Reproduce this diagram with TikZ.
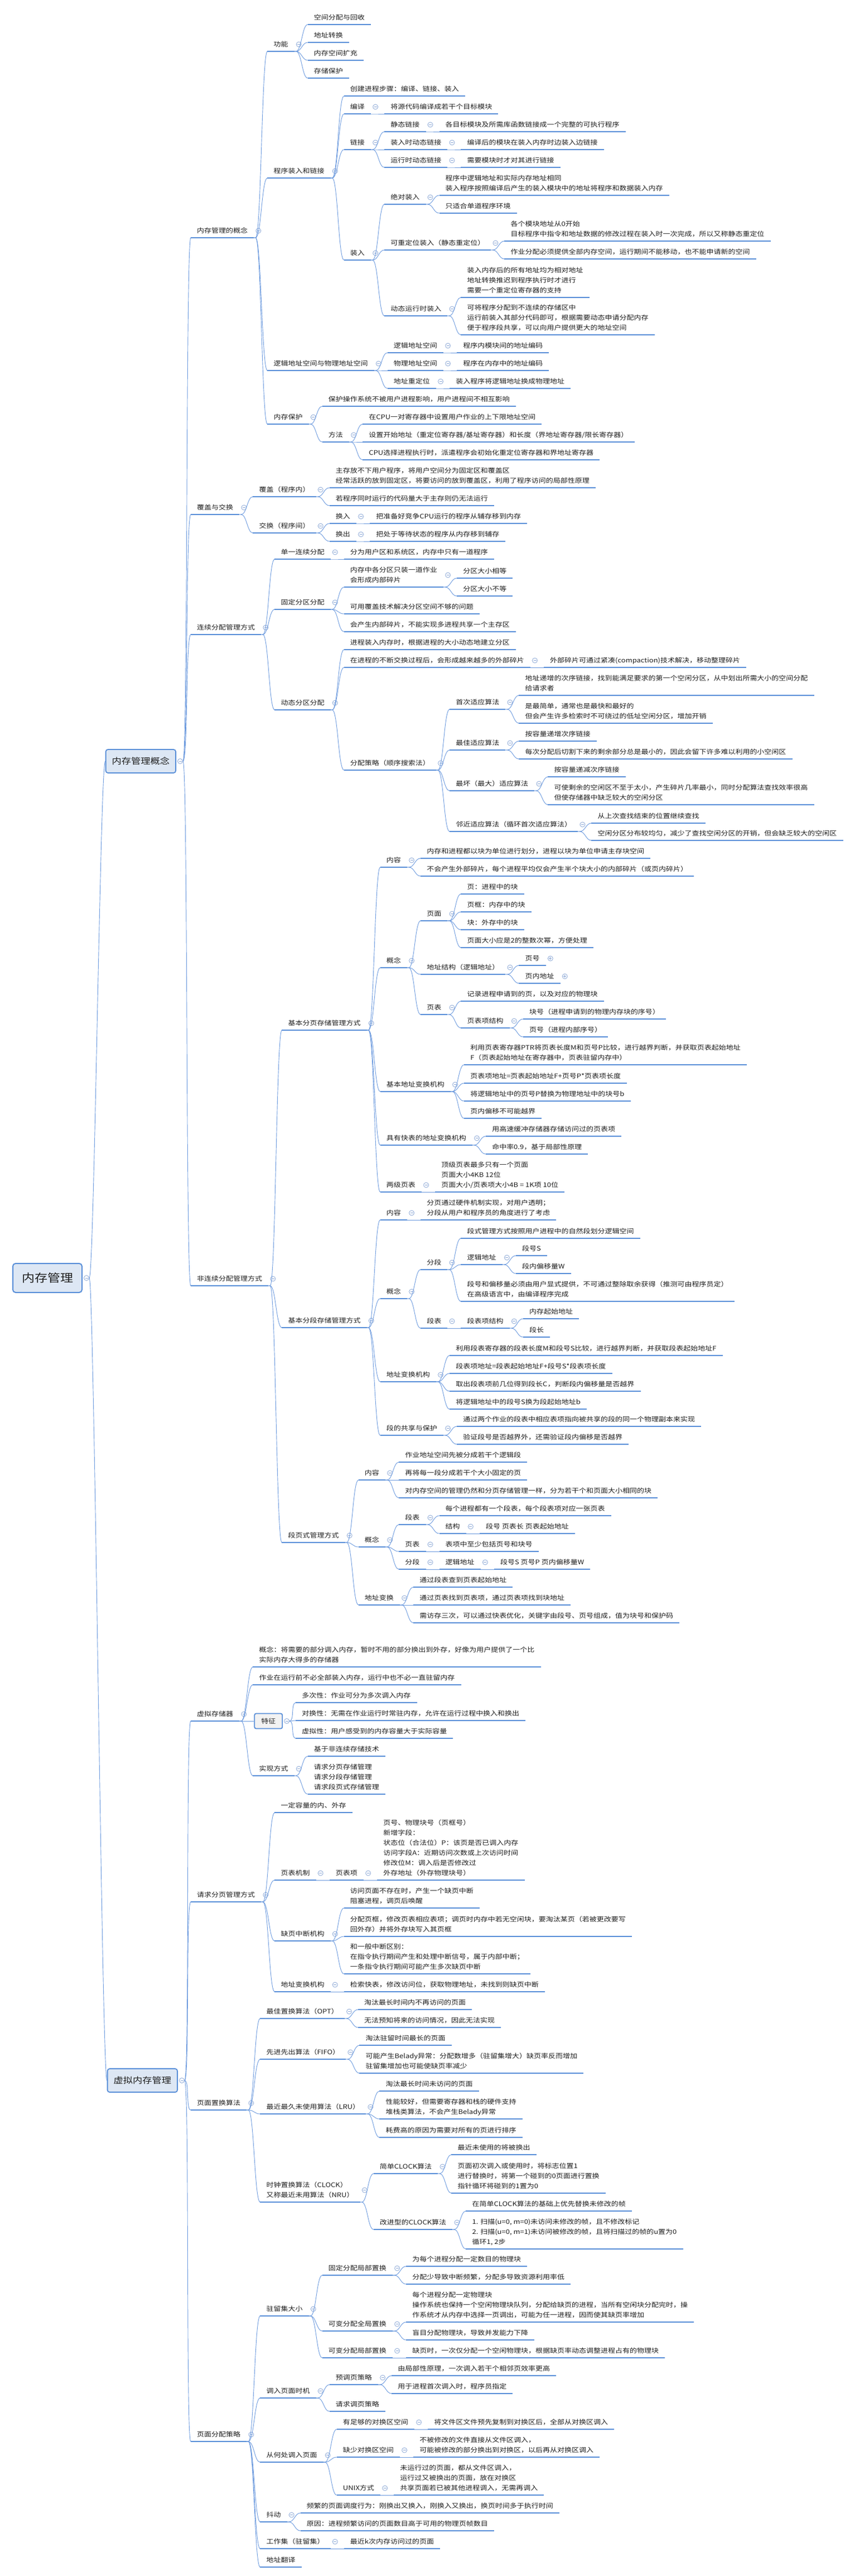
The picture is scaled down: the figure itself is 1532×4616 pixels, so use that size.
\documentclass[tikz,border=0pt]{standalone}
\usepackage{fontspec}
\newfontfamily\cjk[FakeStretch=1.15]{Noto Sans CJK SC}
\usetikzlibrary{calc}
\definecolor{ulc}{RGB}{88,142,216}
\definecolor{lnc}{RGB}{108,154,222}
\definecolor{cbc}{RGB}{140,168,214}
\definecolor{txc}{RGB}{30,30,30}
\definecolor{boxf}{RGB}{221,231,244}
\definecolor{featf}{RGB}{242,242,242}
\newcommand{\ml}[1]{\vbox{\halign{##\hfil\cr#1\crcr}}}
\tikzset{
 nd/.style={anchor=south west, inner xsep=11pt, inner ysep=0pt, text depth=8.2pt, font=\cjk\fontsize{11.3}{18}\selectfont, text=txc},
 ulin/.style={draw=ulc, line width=2.4pt},
 conn/.style={draw=lnc, line width=0.9pt, to path={-- ++(3,0) .. controls +(10,0) and +(-10,0) .. (\tikztotarget)}},
 bconn/.style={draw=lnc, line width=0.9pt, to path={.. controls +(9,0) and +(-9,0) .. (\tikztotarget)}},
 cb/.style={circle, draw=cbc, line width=0.8pt, fill=white, minimum size=9pt, inner sep=0pt},
 lvlbox/.style={draw=ulc, line width=1.8pt, fill=boxf, rounded corners=4pt, font=\cjk\fontsize{15}{18}\selectfont, text=txc, inner xsep=11pt, minimum height=42pt},
 rootbox/.style={draw=ulc, line width=2pt, fill=boxf, rounded corners=5pt, font=\cjk\fontsize{20}{24}\selectfont, text=txc, inner xsep=16pt, minimum height=52pt},
 featbox/.style={draw=ulc, line width=1.8pt, fill=featf, rounded corners=3pt, font=\cjk\fontsize{11.3}{18}\selectfont, text=txc, inner xsep=12pt, minimum height=27pt},
}
% child of an underlined node
\newcommand{\ch}[4]{\node[nd, xshift=24pt] (#2) at (#1.south east |- 0,#3) {#4};
 \draw[ulin] (#2.south west) -- (#2.south east);
 \draw[conn] (#1.south east) to (#2.south west);}
% child of a level-one box
\newcommand{\lv}[4]{\node[nd] (#2) at (342,#3) {#4};
 \draw[ulin] (#2.south west) -- (#2.south east);
 \draw[bconn] ($(#1.east)+(12,0)$) to (#2.south west);}
% collapse buttons
\newcommand{\pc}[2][1]{\node[cb] (#2-cb) at ($(#2.south east)+(8,{-12.5-9*(#1-1)})$) {};
 \draw[cbc, line width=0.8pt] ($(#2-cb)+(-2.5,0)$) -- ($(#2-cb)+(2.5,0)$);}
\newcommand{\pcp}[1]{\node[cb] (#1-cb) at ($(#1.south east)+(8,-12.5)$) {};
 \draw[cbc, line width=0.8pt] ($(#1-cb)+(-2.5,0)$) -- ($(#1-cb)+(2.5,0)$) ($(#1-cb)+(0,-2.5)$) -- ($(#1-cb)+(0,2.5)$);}
\newcommand{\bc}[1]{\node[cb] (#1-cb) at ($(#1.east)+(7,0)$) {};
 \draw[cbc, line width=0.8pt] ($(#1-cb)+(-2.5,0)$) -- ($(#1-cb)+(2.5,0)$);}
\begin{document}
\begin{tikzpicture}[x=1pt,y=-1pt]
\fill[white] (0,0) rectangle (1532,4616);
\useasboundingbox (0,0) rectangle (1532,4616);

% root and level one
\node[rootbox] (R) at (85,2290) {内存管理};
\node[lvlbox, anchor=east] (A) at (316,1364) {内存管理概念};
\node[lvlbox, anchor=east] (B) at (319,3728) {虚拟内存管理};
\bc{R}
\draw[bconn] ($(R.east)+(12,0)$) to (A.west);
\draw[bconn] ($(R.east)+(12,0)$) to (B.west);
\bc{A} \bc{B}

% ===== 内存管理的概念
\lv{A}{A1}{426}{内存管理的概念} \pc{A1}
\ch{A1}{a1}{92}{功能} \pc{a1}
\ch{a1}{L1}{44}{空间分配与回收}
\ch{a1}{L2}{76}{地址转换}
\ch{a1}{L3}{108}{内存空间扩充}
\ch{a1}{L4}{140}{存储保护}
\ch{A1}{a2}{319}{程序装入和链接} \pc{a2}
\ch{a2}{L5}{172}{创建进程步骤：编译、链接、装入}
\ch{a2}{a2b}{204}{编译} \pc{a2b}
\ch{a2b}{L6}{204}{将源代码编译成若干个目标模块}
\ch{a2}{a2c}{268}{链接} \pc{a2c}
\ch{a2c}{a2ca}{236}{静态链接} \pc{a2ca}
\ch{a2ca}{L7}{236}{各目标模块及所需库函数链接成一个完整的可执行程序}
\ch{a2c}{a2cb}{268}{装入时动态链接} \pc{a2cb}
\ch{a2cb}{L8}{268}{编译后的模块在装入内存时边装入边链接}
\ch{a2c}{a2cc}{300}{运行时动态链接} \pc{a2cc}
\ch{a2cc}{L9}{300}{需要模块时才对其进行链接}
\ch{a2}{a2d}{466}{装入} \pc{a2d}
\ch{a2d}{a2da}{366}{绝对装入} \pc{a2da}
\ch{a2da}{L10}{350}{\ml{程序中逻辑地址和实际内存地址相同\cr 装入程序按照编译后产生的装入模块中的地址将程序和数据装入内存}}
\ch{a2da}{L11}{382}{只适合单道程序环境}
\ch{a2d}{a2db}{448}{可重定位装入（静态重定位）} \pc{a2db}
\ch{a2db}{L12}{432}{\ml{各个模块地址从0开始\cr 目标程序中指令和地址数据的修改过程在装入时一次完成，所以又称静态重定位}}
\ch{a2db}{L13}{464}{作业分配必须提供全部内存空间，运行期间不能移动，也不能申请新的空间}
\ch{a2d}{a2dc}{566}{动态运行时装入} \pc{a2dc}
\ch{a2dc}{L14}{533}{\ml{装入内存后的所有地址均为相对地址\cr 地址转换推迟到程序执行时才进行\cr 需要一个重定位寄存器的支持}}
\ch{a2dc}{L15}{600}{\ml{可将程序分配到不连续的存储区中\cr 运行前装入其部分代码即可，根据需要动态申请分配内存\cr 便于程序段共享，可以向用户提供更大的地址空间}}
\ch{A1}{a3}{664}{逻辑地址空间与物理地址空间} \pc{a3}
\ch{a3}{a3a}{632}{逻辑地址空间} \pc{a3a}
\ch{a3a}{L16}{632}{程序内模块间的地址编码}
\ch{a3}{a3b}{664}{物理地址空间} \pc{a3b}
\ch{a3b}{L17}{664}{程序在内存中的地址编码}
\ch{a3}{a3c}{696}{地址重定位} \pc{a3c}
\ch{a3c}{L18}{696}{装入程序将逻辑地址换成物理地址}
\ch{A1}{a4}{760}{内存保护} \pc{a4}
\ch{a4}{L19}{728}{保护操作系统不被用户进程影响，用户进程间不相互影响}
\ch{a4}{a4b}{792}{方法} \pc{a4b}
\ch{a4b}{L20}{760}{在CPU一对寄存器中设置用户作业的上下限地址空间}
\ch{a4b}{L21}{792}{设置开始地址（重定位寄存器/基址寄存器）和长度（界地址寄存器/限长寄存器）}
\ch{a4b}{L22}{824}{CPU选择进程执行时，派遣程序会初始化重定位寄存器和界地址寄存器}

% ===== 覆盖与交换
\lv{A}{A2}{922}{覆盖与交换} \pc{A2}
\ch{A2}{b1}{890}{覆盖（程序内）} \pc{b1}
\ch{b1}{L23}{874}{\ml{主存放不下用户程序，将用户空间分为固定区和覆盖区\cr 经常活跃的放到固定区，将要访问的放到覆盖区，利用了程序访问的局部性原理}}
\ch{b1}{L24}{906}{若程序同时运行的代码量大于主存则仍无法运行}
\ch{A2}{b2}{955}{交换（程序间）} \pc{b2}
\ch{b2}{b2a}{938}{换入} \pc{b2a}
\ch{b2a}{L25}{938}{把准备好竞争CPU运行的程序从辅存移到内存}
\ch{b2}{b2b}{970}{换出} \pc{b2b}
\ch{b2b}{L26}{970}{把处于等待状态的程序从内存移到辅存}

% ===== 连续分配管理方式
\lv{A}{A3}{1137}{连续分配管理方式} \pc{A3}
\ch{A3}{c1}{1002}{单一连续分配} \pc{c1}
\ch{c1}{L27}{1002}{分为用户区和系统区，内存中只有一道程序}
\ch{A3}{c2}{1092}{固定分区分配} \pc{c2}
\ch{c2}{c2a}{1052}{\ml{内存中各分区只装一道作业\cr 会形成内部碎片}} \pc[2]{c2a}
\ch{c2a}{L28}{1036}{分区大小相等}
\ch{c2a}{L29}{1068}{分区大小不等}
\ch{c2}{L30}{1100}{可用覆盖技术解决分区空间不够的问题}
\ch{c2}{L31}{1132}{会产生内部碎片，不能实现多进程共享一个主存区}
\ch{A3}{c3}{1272}{动态分区分配} \pc{c3}
\ch{c3}{L32}{1164}{进程装入内存时，根据进程的大小动态地建立分区}
\ch{c3}{c3b}{1196}{在进程的不断交换过程后，会形成越来越多的外部碎片} \pc{c3b}
\ch{c3b}{L33}{1196}{外部碎片可通过紧凑(compaction)技术解决，移动整理碎片}
\ch{c3}{c3c}{1380}{分配策略（顺序搜索法）} \pc{c3c}
\ch{c3c}{s1}{1271}{首次适应算法} \pc{s1}
\ch{s1}{L34}{1246}{\ml{地址递增的次序链接，找到能满足要求的第一个空闲分区，从中划出所需大小的空间分配\cr 给请求者}}
\ch{s1}{L35}{1296}{\ml{是最简单，通常也是最快和最好的\cr 但会产生许多检索时不可绕过的低址空闲分区，增加开销}}
\ch{c3c}{s2}{1344}{最佳适应算法} \pc{s2}
\ch{s2}{L36}{1328}{按容量递增次序链接}
\ch{s2}{L37}{1360}{每次分配后切割下来的剩余部分总是最小的，因此会留下许多难以利用的小空闲区}
\ch{c3c}{s3}{1417}{最坏（最大）适应算法} \pc{s3}
\ch{s3}{L38}{1392}{按容量递减次序链接}
\ch{s3}{L39}{1442}{\ml{可使剩余的空闲区不至于太小，产生碎片几率最小，同时分配算法查找效率很高\cr 但使存储器中缺乏较大的空闲分区}}
\ch{c3c}{s4}{1490}{邻近适应算法（循环首次适应算法）} \pc{s4}
\ch{s4}{L40}{1475}{从上次查找结束的位置继续查找}
\ch{s4}{L41}{1506}{空闲分区分布较均匀，减少了查找空闲分区的开销，但会缺乏较大的空闲区}

% ===== 非连续分配管理方式
\lv{A}{A4}{2304}{非连续分配管理方式} \pc{A4}
\ch{A4}{d1}{1846}{基本分页存储管理方式} \pc{d1}
\ch{d1}{d1a}{1554}{内容} \pc{d1a}
\ch{d1a}{L42}{1538}{内存和进程都以块为单位进行划分，进程以块为单位申请主存块空间}
\ch{d1a}{L43}{1570}{不会产生外部碎片，每个进程平均仅会产生半个块大小的内部碎片（或页内碎片）}
\ch{d1}{d1b}{1734}{概念} \pc{d1b}
\ch{d1b}{p1}{1650}{页面} \pc{p1}
\ch{p1}{L44}{1602}{页：进程中的块}
\ch{p1}{L45}{1634}{页框：内存中的块}
\ch{p1}{L46}{1666}{块：外存中的块}
\ch{p1}{L47}{1698}{页面大小应是2的整数次幂，方便处理}
\ch{d1b}{p2}{1746}{地址结构（逻辑地址）} \pc{p2}
\ch{p2}{L48}{1730}{页号} \pcp{L48}
\ch{p2}{L49}{1762}{页内地址} \pcp{L49}
\ch{d1b}{p3}{1818}{页表} \pc{p3}
\ch{p3}{L50}{1794}{记录进程申请到的页，以及对应的物理块}
\ch{p3}{p3b}{1842}{页表项结构} \pc{p3b}
\ch{p3b}{L51}{1826}{块号（进程申请到的物理内存块的序号）}
\ch{p3b}{L52}{1858}{页号（进程内部序号）}
\ch{d1}{d1c}{1956}{基本地址变换机构} \pc{d1c}
\ch{d1c}{L53}{1908}{\ml{利用页表寄存器PTR将页表长度M和页号P比较，进行越界判断，并获取页表起始地址\cr F（页表起始地址在寄存器中，页表驻留内存中）}}
\ch{d1c}{L54}{1941}{页表项地址=页表起始地址F+页号P*页表项长度}
\ch{d1c}{L55}{1973}{将逻辑地址中的页号P替换为物理地址中的块号b}
\ch{d1c}{L56}{2004}{页内偏移不可能越界}
\ch{d1}{d1d}{2052}{具有快表的地址变换机构} \pc{d1d}
\ch{d1d}{L57}{2036}{用高速缓冲存储器存储访问过的页表项}
\ch{d1d}{L58}{2068}{命中率0.9，基于局部性原理}
\ch{d1}{d1e}{2136}{两级页表} \pc{d1e}
\ch{d1e}{L59}{2136}{\ml{顶级页表最多只有一个页面\cr 页面大小4KB 12位\cr 页面大小/页表项大小4B = 1K项 10位}}

\ch{A4}{d2}{2379}{基本分段存储管理方式} \pc{d2}
\ch{d2}{d2a}{2186}{内容} \pc{d2a}
\ch{d2a}{L60}{2186}{\ml{分页通过硬件机制实现，对用户透明；\cr 分段从用户和程序员的角度进行了考虑}}
\ch{d2}{d2b}{2327}{概念} \pc{d2b}
\ch{d2b}{q1}{2275}{分段} \pc{q1}
\ch{q1}{L61}{2219}{段式管理方式按照用户进程中的自然段划分逻辑空间}
\ch{q1}{q1b}{2266}{逻辑地址} \pc{q1b}
\ch{q1b}{L62}{2250}{段号S}
\ch{q1b}{L63}{2282}{段内偏移量W}
\ch{q1}{L64}{2332}{\ml{段号和偏移量必须由用户显式提供，不可通过整除取余获得（推测可由程序员定）\cr 在高级语言中，由编译程序完成}}
\ch{d2b}{q2}{2380}{段表} \pc{q2}
\ch{q2}{q2a}{2380}{段表项结构} \pc{q2a}
\ch{q2a}{L65}{2363}{内存起始地址}
\ch{q2a}{L66}{2396}{段长}
\ch{d2}{d2c}{2476}{地址变换机构} \pc{d2c}
\ch{d2c}{L67}{2429}{利用段表寄存器的段表长度M和段号S比较，进行越界判断，并获取段表起始地址F}
\ch{d2c}{L68}{2461}{段表项地址=段表起始地址F+段号S*段表项长度}
\ch{d2c}{L69}{2493}{取出段表项前几位得到段长C，判断段内偏移量是否越界}
\ch{d2c}{L70}{2525}{将逻辑地址中的段号S换为段起始地址b}
\ch{d2}{d2d}{2572}{段的共享与保护} \pc{d2d}
\ch{d2d}{L71}{2556}{通过两个作业的段表中相应表项指向被共享的段的同一个物理副本来实现}
\ch{d2d}{L72}{2588}{验证段号是否越界外，还需验证段内偏移是否越界}

\ch{A4}{d3}{2764}{段页式管理方式} \pc{d3}
\ch{d3}{d3a}{2652}{内容} \pc{d3a}
\ch{d3a}{L73}{2620}{作业地址空间先被分成若干个逻辑段}
\ch{d3a}{L74}{2652}{再将每一段分成若干个大小固定的页}
\ch{d3a}{L75}{2684}{对内存空间的管理仍然和分页存储管理一样，分为若干个和页面大小相同的块}
\ch{d3}{d3b}{2772}{概念} \pc{d3b}
\ch{d3b}{r1}{2732}{段表} \pc{r1}
\ch{r1}{L76}{2716}{每个进程都有一个段表，每个段表项对应一张页表}
\ch{r1}{r1b}{2748}{结构} \pc{r1b}
\ch{r1b}{L77}{2748}{段号 页表长 页表起始地址}
\ch{d3b}{r2}{2780}{页表} \pc{r2}
\ch{r2}{L78}{2780}{表项中至少包括页号和块号}
\ch{d3b}{r3}{2812}{分段} \pc{r3}
\ch{r3}{r3a}{2812}{逻辑地址} \pc{r3a}
\ch{r3a}{L79}{2812}{段号S 页号P 页内偏移量W}
\ch{d3}{d3c}{2876}{地址变换} \pc{d3c}
\ch{d3c}{L80}{2844}{通过段表查到页表起始地址}
\ch{d3c}{L81}{2876}{通过页表找到页表项，通过页表项找到块地址}
\ch{d3c}{L82}{2908}{需访存三次，可以通过快表优化，关键字由段号、页号组成，值为块号和保护码}

% ===== 虚拟存储器
\lv{B}{B1}{3084}{虚拟存储器} \pc{B1}
\ch{B1}{L83}{2987}{\ml{概念：将需要的部分调入内存，暂时不用的部分换出到外存，好像为用户提供了一个比\cr 实际内存大得多的存储器}}
\ch{B1}{L84}{3019}{作业在运行前不必全部装入内存，运行中也不必一直驻留内存}
\node[featbox, anchor=west, xshift=26pt] (F) at (B1.south east) {特征};
\draw[conn] (B1.south east) to (F.west);
\bc{F}
\node[nd, xshift=23pt] (L85) at (F.east |- 0,3051) {多次性：作业可分为多次调入内存};
\node[nd, xshift=23pt] (L86) at (F.east |- 0,3083) {对换性：无需在作业运行时常驻内存，允许在运行过程中换入和换出};
\node[nd, xshift=23pt] (L87) at (F.east |- 0,3115) {虚拟性：用户感受到的内存容量大于实际容量};
\foreach \n in {L85,L86,L87}{
 \draw[ulin] (\n.south west) -- (\n.south east);
 \draw[bconn] ($(F.east)+(12,0)$) to (\n.south west);
}
\ch{B1}{e4}{3182}{实现方式} \pc{e4}
\ch{e4}{L88}{3147}{基于非连续存储技术}
\ch{e4}{L89}{3215}{\ml{请求分页存储管理\cr 请求分段存储管理\cr 请求段页式存储管理}}

% ===== 请求分页管理方式
\lv{B}{B2}{3408}{请求分页管理方式} \pc{B2}
\ch{B2}{L90}{3248}{一定容量的内、外存}
\ch{B2}{f2}{3369}{页表机制} \pc{f2}
\ch{f2}{f2a}{3369}{页表项} \pc{f2a}
\ch{f2a}{L91}{3369}{\ml{页号、物理块号（页框号）\cr 新增字段：\cr 状态位（合法位）P：该页是否已调入内存\cr 访问字段A：近期访问次数或上次访问时间\cr 修改位M：调入后是否修改过\cr 外存地址（外存物理块号）}}
\ch{B2}{f3}{3478}{缺页中断机构} \pc{f3}
\ch{f3}{L92}{3419}{\ml{访问页面不存在时，产生一个缺页中断\cr 阻塞进程，调页后唤醒}}
\ch{f3}{L93}{3470}{\ml{分配页框，修改页表相应表项；调页时内存中若无空闲块，要淘汰某页（若被更改要写\cr 回外存）并将外存块写入其页框}}
\ch{f3}{L94}{3537}{\ml{和一般中断区别：\cr 在指令执行期间产生和处理中断信号，属于内部中断；\cr 一条指令执行期间可能产生多次缺页中断}}
\ch{B2}{f4}{3569}{地址变换机构} \pc{f4}
\ch{f4}{L95}{3569}{检索快表，修改访问位，获取物理地址，未找到则缺页中断}

% ===== 页面置换算法
\lv{B}{B3}{3781}{页面置换算法} \pc{B3}
\ch{B3}{g1}{3617}{最佳置换算法（OPT）} \pc{g1}
\ch{g1}{L96}{3601}{淘汰最长时间内不再访问的页面}
\ch{g1}{L97}{3633}{无法预知将来的访问情况，因此无法实现}
\ch{B3}{g2}{3690}{先进先出算法（FIFO）} \pc{g2}
\ch{g2}{L98}{3665}{淘汰驻留时间最长的页面}
\ch{g2}{L99}{3715}{\ml{可能产生Belady异常：分配数增多（驻留集增大）缺页率反而增加\cr 驻留集增加也可能使缺页率减少}}
\ch{B3}{g3}{3788}{最近最久未使用算法（LRU）} \pc{g3}
\ch{g3}{L100}{3747}{淘汰最长时间未访问的页面}
\ch{g3}{L101}{3797}{\ml{性能较好，但需要寄存器和栈的硬件支持\cr 堆栈类算法，不会产生Belady异常}}
\ch{g3}{L102}{3830}{耗费高的原因为需要对所有的页进行排序}
\ch{B3}{g4}{3946}{\ml{时钟置换算法（CLOCK）\cr 又称最近未用算法（NRU）}} \pc[2]{g4}
\ch{g4}{g4a}{3895}{简单CLOCK算法} \pc{g4a}
\ch{g4a}{L103}{3861}{最近未使用的将被换出}
\ch{g4a}{L104}{3930}{\ml{页面初次调入或使用时，将标志位置1\cr 进行替换时，将第一个碰到的0页面进行置换\cr 指针循环将碰到的1置为0}}
\ch{g4}{g4b}{3995}{改进型的CLOCK算法} \pc{g4b}
\ch{g4b}{L105}{3962}{在简单CLOCK算法的基础上优先替换未修改的帧}
\ch{g4b}{L106}{4030}{\ml{1. 扫描(u=0, m=0)未访问未修改的帧，且不修改标记\cr 2. 扫描(u=0, m=1)未访问被修改的帧，且将扫描过的帧的u置为0\cr 循环1, 2步}}

% ===== 页面分配策略
\lv{B}{B4}{4375}{页面分配策略} \pc{B4}
\ch{B4}{h1}{4150}{驻留集大小} \pc{h1}
\ch{h1}{h1a}{4077}{固定分配局部置换} \pc{h1a}
\ch{h1a}{L107}{4061}{为每个进程分配一定数目的物理块}
\ch{h1a}{L108}{4093}{分配少导致中断频繁，分配多导致资源利用率低}
\ch{h1}{h1b}{4177}{可变分配全局置换} \pc{h1b}
\ch{h1b}{L109}{4161}{\ml{每个进程分配一定物理块\cr 操作系统也保持一个空闲物理块队列，分配给缺页的进程，当所有空闲块分配完时，操\cr 作系统才从内存中选择一页调出，可能为任一进程，因而使其缺页率增加}}
\ch{h1b}{L110}{4193}{盲目分配物理块，导致并发能力下降}
\ch{h1}{h1c}{4225}{可变分配局部置换} \pc{h1c}
\ch{h1c}{L111}{4225}{缺页时，一次仅分配一个空闲物理块，根据缺页率动态调整进程占有的物理块}
\ch{B4}{h2}{4297}{调入页面时机} \pc{h2}
\ch{h2}{h2a}{4273}{预调页策略} \pc{h2a}
\ch{h2a}{L112}{4257}{由局部性原理，一次调入若干个相邻页效率更高}
\ch{h2a}{L113}{4289}{用于进程首次调入时，程序员指定}
\ch{h2}{L114}{4321}{请求调页策略}
\ch{B4}{h3}{4412}{从何处调入页面} \pc{h3}
\ch{h3}{h3a}{4353}{有足够的对换区空间} \pc{h3a}
\ch{h3a}{L115}{4353}{将文件区文件预先复制到对换区后，全部从对换区调入}
\ch{h3}{h3b}{4403}{缺少对换区空间} \pc{h3b}
\ch{h3b}{L116}{4403}{\ml{不被修改的文件直接从文件区调入，\cr 可能被修改的部分换出到对换区，以后再从对换区调入}}
\ch{h3}{h3c}{4471}{UNIX方式} \pc{h3c}
\ch{h3c}{L117}{4471}{\ml{未运行过的页面，都从文件区调入，\cr 运行过又被换出的页面，放在对换区\cr 共享页面若已被其他进程调入，无需再调入}}
\ch{B4}{h4}{4519}{抖动} \pc{h4}
\ch{h4}{L118}{4503}{频繁的页面调度行为：刚换出又换入，刚换入又换出，换页时间多于执行时间}
\ch{h4}{L119}{4535}{原因：进程频繁访问的页面数目高于可用的物理页帧数目}
\ch{B4}{h5}{4567}{工作集（驻留集）} \pc{h5}
\ch{h5}{L120}{4567}{最近k次内存访问过的页面}
\ch{B4}{L121}{4600}{地址翻译}
\end{tikzpicture}
\end{document}
